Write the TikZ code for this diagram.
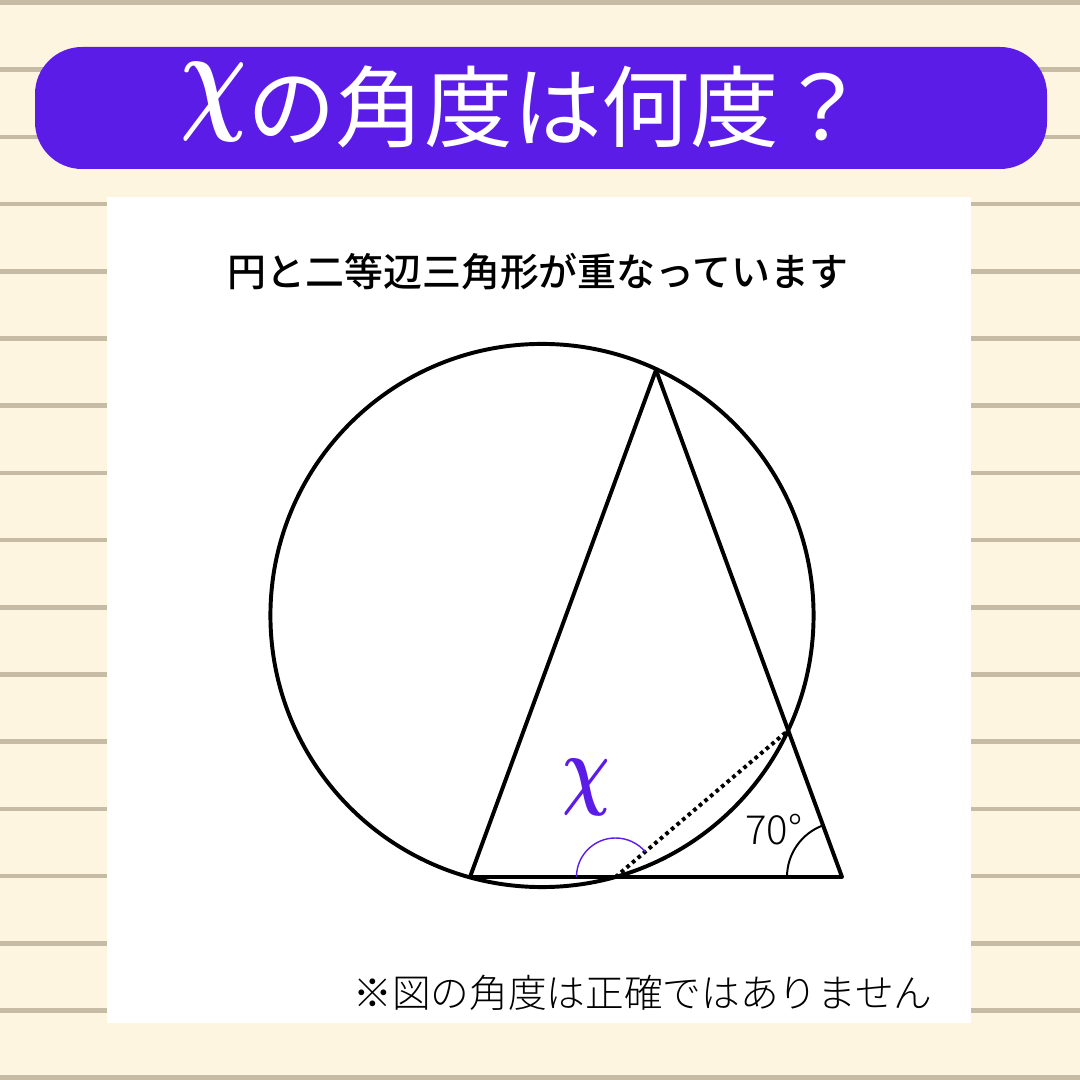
\RequirePackage{fix-cm}
\documentclass[tikz,border=0pt]{standalone}
\usepackage{fontspec}
\usepackage{amsmath}
\setmainfont{Noto Sans CJK JP}
\newfontfamily\jplight{Noto Sans CJK JP Light}
\newfontfamily\jpmed{Noto Sans CJK JP Medium}
\usepackage{xcolor}
\usetikzlibrary{intersections}
\definecolor{paper}{RGB}{254,245,225}
\definecolor{rulecol}{RGB}{198,188,166}
\definecolor{banner}{RGB}{92,28,232}
\tikzset{
	stripe/.style={draw=rulecol, line width=3.2pt},
	figline/.style={draw=black, line width=2.8pt, line join=round},
	anglearc/.style={line width=1.4pt}
}
\newcommand{\bigchi}[1]{\scalebox{0.75}[1]{\fontsize{#1}{#1}\selectfont$\boldsymbol{\chi}$}}

\begin{document}
\begin{tikzpicture}[x=0.025cm, y=0.025cm]
		% paper with ruled lines
		\fill[paper] (0,0) rectangle (1080,1080);
		\useasboundingbox (0,0) rectangle (1080,1080);
		\foreach \k in {0,...,16}
			\draw[stripe] (0,{1077.5-67.2*\k}) -- (1080,{1077.5-67.2*\k});

		% title banner
		\fill[banner, rounded corners=1.175cm] (35,911) rectangle (1047,1033);
		\node[text=white, anchor=base, inner sep=0pt, font=\fontsize{63}{63}\selectfont] (title) at (524,939)
			{\raisebox{17pt}{\bigchi{88}}の角度は何度？};

		% white panel with texts
		\fill[white] (107,57) rectangle (971,883);
		\node[font=\jpmed\fontsize{27.7}{27.7}\selectfont] (sub) at (538,808) {円と二等辺三角形が重なっています};
		\node[font=\jplight\fontsize{27.5}{27.5}\selectfont] (note) at (643,87) {※図の角度は正確ではありません};

		% circle and isosceles triangle
		\coordinate (O) at (542,464.5);
		\coordinate (A) at (656,710);
		\coordinate (B) at (470,203);
		\coordinate (C) at (842,203);
		\draw[figline, name path=circ] (O) circle[radius=6.7875cm];
		\draw[figline] (A) -- (B) -- (C) -- cycle;
		\path[name path=base] (B) -- (C);
		\path[name path=rside] (C) -- (A);
		\path[name intersections={of=circ and base, by=P}];
		\path[name intersections={of=circ and rside, by=Q}];
		\draw[figline, dash pattern=on 2.6pt off 2.6pt] (P) -- (Q);

		% angle marks
		\draw[banner, line width=1pt] (P) ++(180:39) arc[start angle=180, end angle=40, radius=0.975cm];
		\draw[anglearc] (C) ++(180:55) arc[start angle=180, end angle=110, radius=1.375cm];
		\node[text=banner] (xlabel) at (586,293) {\bigchi{63}};
		\node[font=\jplight\fontsize{28.5}{28.5}\selectfont] (deg) at (774,250) {70°};
	\end{tikzpicture}
\end{document}
